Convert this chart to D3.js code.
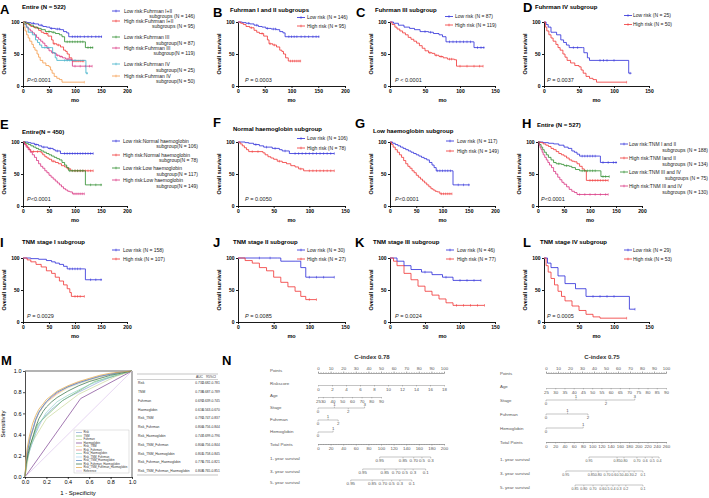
<!DOCTYPE html>
<html><head><meta charset="utf-8">
<script src="https://cdn.jsdelivr.net/npm/d3@7"></script>
<style>
body{margin:0;background:#fff}
svg{font-family:"Liberation Sans",Arial,sans-serif}
</style></head><body>
<svg width="709" height="498"></svg>
<script>
// ---- Kaplan-Meier curves: [month, survival %] steps, censor times
const fI_low = [[0,100],[8,99],[15,98],[22,97],[30,95],[38,93],[45,92],[52,90],[62,89],[72,88],[78,85],[84,83],[88,77],[152,77]];
const fI_low_c = [20,35,55,66,70,95,100,105,110,118,125,132,140,146,151];
const fI_high = [[0,100],[5,98],[10,96],[15,93],[22,91],[30,87],[35,84],[40,82],[48,78],[55,72],[58,66],[65,64],[72,61],[78,56],[82,54],[85,50],[89,44],[94,39],[117,39]];
const fI_high_c = [25,45,60,68,98,102,106,110,114,117];
const fIII_low = [[0,100],[5,98],[12,95],[20,92],[28,90],[35,88],[43,85],[55,84],[62,82],[70,80],[75,77],[80,69],[119,69],[120,60],[135,60]];
const fIII_low_c = [50,58,85,90,95,100,105,110,115,125,130,134];
const fIII_high = [[0,100],[3,96],[7,92],[10,89],[14,86],[18,83],[22,80],[26,76],[30,73],[34,70],[38,67],[42,63],[46,59],[50,55],[55,52],[60,51],[64,48],[70,46],[76,44],[82,42],[92,41],[95,31],[133,31]];
const fIII_high_c = [57,66,73,85,88,100,110,120,128,133];
const fIV_low = [[0,100],[3,96],[6,92],[10,84],[18,80],[24,72],[28,68],[32,64],[36,60],[55,60],[57,52],[62,44],[65,40],[120,40],[121,20],[125,20]];
const fIV_low_c = [42,48,80,85,90,100,123];
const fIV_high = [[0,100],[2,92],[4,86],[7,80],[10,75],[13,70],[17,65],[20,60],[23,56],[27,50],[30,45],[33,40],[38,36],[44,32],[50,30],[53,25],[56,20],[60,15],[65,12],[70,10],[75,6],[118,6]];
const fIV_high_c = [118];

const hN_low = [[0,100],[10,99],[15,98],[22,96],[30,94],[36,92],[48,90],[58,88],[62,86],[72,82],[135,82]];
const hN_low_c = [25,40,52,66,80,85,90,95,100,105,110,115,120,125,130,135];
const hN_high = [[0,100],[3,97],[6,94],[9,91],[12,88],[15,85],[35,83],[38,80],[42,77],[46,75],[50,73],[55,70],[62,68],[68,66],[74,63],[80,61],[85,58],[92,55],[135,55]];
const hN_high_c = [20,28,58,88,100,105,110,115,120,125,130,135];
const hL_low = [[0,100],[5,98],[10,96],[15,94],[20,92],[25,90],[30,88],[35,86],[40,84],[45,82],[50,80],[55,78],[60,76],[65,74],[70,72],[75,68],[80,64],[84,60],[88,55],[118,55],[120,33],[152,33]];
const hL_low_c = [90,95,100,105,110,115,130,140,150];
const hL_high = [[0,100],[3,96],[6,92],[10,88],[14,84],[18,80],[22,76],[26,71],[30,66],[34,62],[38,59],[42,55],[46,52],[50,48],[54,45],[58,42],[62,39],[66,36],[70,33],[74,30],[78,27],[82,25],[86,23],[90,22],[95,19],[118,19]];
const hL_high_c = [98,102,106,110,114,118];

const tA_low = [[0,100],[10,99],[20,98],[30,97],[40,95],[50,92],[58,90],[65,86],[70,84],[75,81],[80,78],[118,78],[120,68],[152,68]];
const tA_low_c = [85,90,95,100,105,110,125,135,145,150];
const tA_high = [[0,100],[5,99],[10,97],[15,95],[20,93],[25,90],[30,88],[35,85],[40,82],[45,80],[50,78],[55,75],[60,72],[65,70],[70,69],[75,66],[80,62],[85,58],[89,55],[93,40],[135,40]];
const tA_high_c = [100,105,110,115,120,125,130,135];
const tB_low = [[0,100],[3,96],[6,92],[9,88],[12,84],[16,80],[20,76],[25,72],[30,68],[35,66],[45,65],[50,63],[60,62],[65,60],[72,57],[80,55],[120,55],[121,46],[137,46]];
const tB_low_c = [40,55,85,90,95,100,105,110,125,130,137];
const tB_high = [[0,100],[2,95],[4,91],[6,88],[8,84],[10,80],[13,76],[16,72],[19,68],[22,64],[26,60],[30,54],[34,50],[38,45],[42,41],[46,37],[50,34],[55,30],[60,26],[65,23],[70,21],[75,18],[135,18]];
const tB_high_c = [80,90,100,110,120,130,135];

const tI_low = [[0,100],[15,99],[30,98],[45,96],[55,94],[62,92],[70,90],[78,87],[85,83],[118,83],[120,66],[152,66]];
const tI_low_c = [90,95,100,105,110,130,140,150];
const tI_high = [[0,100],[8,97],[15,94],[25,90],[35,86],[45,80],[55,76],[62,70],[70,64],[78,58],[85,52],[90,46],[93,40],[118,40]];
const tI_high_c = [100,105,110,118];
const tII_low = [[0,100],[55,100],[60,95],[80,95],[88,85],[95,70],[135,70]];
const tII_low_c = [30,45,100,110,120,135];
const tII_high = [[0,100],[10,96],[20,92],[30,85],[40,80],[50,70],[60,62],[70,55],[80,48],[88,40],[95,35],[110,35]];
const tII_high_c = [100,110];
const tIII_low = [[0,100],[10,95],[20,88],[30,82],[45,78],[60,74],[75,70],[90,65],[130,65]];
const tIII_low_c = [50,80,100,110,120,130];
const tIII_high = [[0,100],[5,95],[10,88],[20,76],[30,66],[40,56],[50,48],[60,42],[70,36],[80,30],[90,26],[135,26]];
const tIII_high_c = [95,105,115,125,135];
const tIV_low = [[0,100],[5,92],[10,85],[20,72],[30,60],[45,52],[60,40],[120,40],[122,20],[130,20]];
const tIV_low_c = [70,80,90,100,130];
const tIV_high = [[0,100],[3,88],[6,78],[10,68],[15,58],[20,48],[25,40],[30,33],[40,25],[50,18],[60,12],[70,8],[80,6],[118,6]];
const tIV_high_c = [118];

// ---- ROC curves: [1 - specificity, sensitivity]
const rocNames = ["Risk","TNM","Fuhrman","Haemoglobin","Risk_TNM","Risk_Fuhrman","Risk_Haemoglobin","Risk_TNM_Fuhrman","Risk_TNM_Haemoglobin","Risk_Fuhrman_Haemoglobin","Risk_TNM_Fuhrman_Haemoglobin","Reference"];
const rocColors = ["#8aa6d6","#6fb46a","#c9d99a","#7b3f91","#eddc9c","#e07a7a","#8fd3c6","#a6d4f2","#4f7fc4","#2c6a3e","#e0a23e","#dcc4ec"];
const rocRisk = [[0,0],[0.01,0.1],[0.02,0.16],[0.04,0.24],[0.06,0.3],[0.08,0.35],[0.1,0.41],[0.13,0.48],[0.16,0.54],[0.2,0.59],[0.25,0.64],[0.3,0.68],[0.35,0.72],[0.4,0.75],[0.5,0.8],[0.6,0.85],[0.7,0.9],[0.8,0.94],[0.9,0.97],[1,1]];
const rocTNM = [[0,0],[0.03,0.25],[0.12,0.5],[0.35,0.72],[0.65,0.9],[1,1]];
const rocFuhrman = [[0,0],[0.05,0.3],[0.2,0.55],[0.5,0.78],[0.85,0.95],[1,1]];
const rocHaemo = [[0,0],[0.52,0.74],[1,1]];
const rocRT = [[0,0],[0.01,0.14],[0.03,0.26],[0.05,0.36],[0.08,0.46],[0.1,0.53],[0.13,0.6],[0.17,0.66],[0.2,0.7],[0.25,0.74],[0.3,0.78],[0.4,0.84],[0.5,0.88],[0.6,0.91],[0.7,0.94],[0.8,0.97],[0.9,0.99],[1,1]];
const rocRF = [[0,0],[0.01,0.15],[0.03,0.28],[0.05,0.38],[0.08,0.47],[0.1,0.54],[0.13,0.61],[0.17,0.67],[0.2,0.71],[0.25,0.75],[0.3,0.79],[0.4,0.85],[0.5,0.89],[0.6,0.92],[0.7,0.95],[0.8,0.97],[0.9,0.99],[1,1]];
const rocRH = [[0,0],[0.01,0.12],[0.03,0.2],[0.05,0.27],[0.08,0.36],[0.1,0.43],[0.13,0.5],[0.17,0.56],[0.2,0.61],[0.25,0.66],[0.3,0.71],[0.4,0.77],[0.5,0.82],[0.6,0.87],[0.7,0.91],[0.8,0.95],[0.9,0.98],[1,1]];
const rocRTF = [[0,0],[0.01,0.16],[0.02,0.24],[0.05,0.39],[0.08,0.48],[0.1,0.55],[0.13,0.62],[0.17,0.67],[0.2,0.71],[0.25,0.76],[0.3,0.8],[0.4,0.85],[0.5,0.88],[0.6,0.92],[0.7,0.95],[0.8,0.97],[0.9,0.99],[1,1]];
const rocRTH = [[0,0],[0.01,0.13],[0.03,0.27],[0.05,0.37],[0.08,0.47],[0.1,0.54],[0.13,0.61],[0.17,0.67],[0.2,0.71],[0.25,0.76],[0.3,0.8],[0.4,0.85],[0.5,0.89],[0.6,0.92],[0.7,0.95],[0.8,0.97],[0.9,0.99],[1,1]];
const rocRFH = [[0,0],[0.01,0.12],[0.03,0.22],[0.05,0.3],[0.08,0.4],[0.1,0.47],[0.13,0.55],[0.17,0.62],[0.2,0.66],[0.25,0.71],[0.3,0.75],[0.4,0.81],[0.5,0.86],[0.6,0.9],[0.7,0.93],[0.8,0.96],[0.9,0.98],[1,1]];
const rocRTFH = [[0,0],[0.01,0.18],[0.02,0.27],[0.04,0.38],[0.07,0.5],[0.1,0.58],[0.13,0.64],[0.17,0.69],[0.2,0.73],[0.25,0.77],[0.3,0.81],[0.4,0.86],[0.5,0.9],[0.6,0.93],[0.7,0.96],[0.8,0.98],[0.9,0.99],[1,1]];
const rocRef = [[0,0],[1,1]];
const rocCurves = [rocRisk,rocTNM,rocFuhrman,rocHaemo,rocRT,rocRF,rocRH,rocRTF,rocRTH,rocRFH,rocRTFH,rocRef];
const aucValues = ["0.732","0.738","0.692","0.616","0.792","0.800","0.747","0.800","0.801","0.776","0.808"];
const aucCI = ["0.682-0.781","0.687-0.789","0.639-0.745","0.563-0.670","0.747-0.837","0.756-0.844","0.699-0.796","0.756-0.844","0.758-0.845","0.731-0.821","0.765-0.851"];

// ---- nomograms
const nomoLabels1 = ["Points","Riskscore","Age","Stage","Fuhrman","Hemoglobin","Total Points","1- year survival","3- year survival","5- year survival"];
const nomoLabels2 = ["Points","Age","Stage","Fuhrman","Hemoglobin","Total Points","1- year survival","3- year survival","5- year survival"];
const riskTicks = [0,2,4,6,8,10,12,14,16,18];
const age1Ticks = [25,30,40,50,60,70,80,90];
const age2Ticks = [25,30,35,40,45,50,55,60,65,70,75,80,85,90];
const stage1Pts = [0,13,24,37];
const fuhr1Pts = [0,8,16];
const hemo1Pts = [0,12];
const stage2Pts = [0,25,50,74];
const fuhr2Pts = [0,18,35];
const hemo2Pts = [0,31];
// [survival probability label, total points]
const surv1y_1 = [["0.95",98],["0.85",135],["0.70",152],["0.5",165],["0.3",179]];
const surv3y_1 = [["0.95",71],["0.85",106],["0.70",124],["0.5",138],["0.3",151],["0.1",171]];
const surv5y_1 = [["0.95",52],["0.85",86],["0.70",103],["0.5",117],["0.3",130],["0.1",149]];
const surv1y_2 = [["0.95",93],["0.85",154],["0.80",169],["0.70",197],["0.6",215],["0.5",230],["0.4",245]];
const surv3y_2 = [["0.95",43],["0.85",98],["0.80",113],["0.70",132],["0.6",147],["0.5",158],["0.4",169],["0.3",180],["0.2",191],["0.1",210]];
const surv5y_2 = [["0.85",63],["0.80",82],["0.70",102],["0.6",121],["0.5",132],["0.4",145],["0.3",158],["0.2",173],["0.1",210]];

const BLUE="#2a2ad8", RED="#f03232", GREEN="#2a8a2a", MAG="#d8307f", CYAN="#3aaec8", ORANGE="#f59a4a";
const svg = d3.select("svg");

function cur(d, c, col, l1, l2) { return {d, c, col, l1, l2}; }

const panels = [
  {L:"A", lx:0, ly:14, title:"Entire (N = 522)", tx:22, ty:9, x0:23, w:104, top:22, bot:86, xmax:200, p:"<0.0001", px:27, py:82,
   leg:{mx:112, tx:124, rx:195, rows:[[11,16.5],[21,26.5],[37,43],[48,53.5],[64,70],[76,81.5]]},
   curves:[cur(fI_low,fI_low_c,BLUE,"Low risk:Fuhrman I+II","subgroups (N = 146)"),
           cur(fI_high,fI_high_c,RED,"High risk:Fuhrman I+II","subgroups (N = 95)"),
           cur(fIII_low,fIII_low_c,GREEN,"Low risk:Fuhrman III","subgroup(N = 87)"),
           cur(fIII_high,fIII_high_c,MAG,"High risk:Fuhrman III","subgroup(N = 119)"),
           cur(fIV_low,fIV_low_c,CYAN,"Low risk:Fuhrman IV","subgroup(N = 25)"),
           cur(fIV_high,fIV_high_c,ORANGE,"High risk:Fuhrman IV","subgroup(N = 50)")]},
  {L:"B", lx:213, ly:17, title:"Fuhrman I and II subgroups", tx:230, ty:12, x0:238, w:107, top:22, bot:86, xmax:200, p:" = 0.0003", px:245, py:82,
   leg:{mx:297, tx:307, rows:[17.5,26]},
   curves:[cur(fI_low,fI_low_c,BLUE,"Low risk (N = 146)"),cur(fI_high,fI_high_c,RED,"High risk (N = 95)")]},
  {L:"C", lx:356, ly:17, title:"Fuhrman III subgroup", tx:375, ty:12, x0:390, w:105, top:22, bot:86, xmax:150, p:" < 0.0001", px:395, py:82,
   leg:{mx:445, tx:455, rows:[16.5,25]},
   curves:[cur(fIII_low,fIII_low_c,BLUE,"Low risk (N = 87)"),cur(fIII_high,fIII_high_c,RED,"High risk (N = 119)")]},
  {L:"D", lx:523, ly:12, title:"Fuhrman IV subgroup", tx:535, ty:9, x0:544, w:105, top:22, bot:86, xmax:150, p:" = 0.0037", px:547, py:82,
   leg:{mx:624, tx:633, rows:[15.5,24.5]},
   curves:[cur(fIV_low,fIV_low_c,BLUE,"Low risk (N = 25)"),cur(fIV_high,fIV_high_c,RED,"High risk (N = 50)")]},
  {L:"E", lx:0, ly:129, title:"Entire(N = 450)", tx:22, ty:134, x0:23, w:104, top:142, bot:206, xmax:200, p:"<0.0001", px:27, py:201,
   leg:{mx:112, tx:123, rx:198, rows:[[141,146.5],[155,160.5],[168,174],[180,186]]},
   curves:[cur(hN_low,hN_low_c,BLUE,"Low risk:Normal haemoglobin","subgroup(N = 106)"),
           cur(hN_high,hN_high_c,RED,"High risk:Normal haemoglobin","subgroup(N = 78)"),
           cur(hL_low,hL_low_c,GREEN,"Low risk:Low haemoglobin","subgroup(N = 117)"),
           cur(hL_high,hL_high_c,MAG,"High risk:Low haemoglobin","subgroup(N = 149)")]},
  {L:"F", lx:213, ly:127, title:"Normal haemoglobin subgroup", tx:233, ty:131, x0:238, w:107, top:142, bot:206, xmax:150, p:" = 0.0050", px:245, py:201,
   leg:{mx:297, tx:307, rows:[138.5,148]},
   curves:[cur(hN_low,hN_low_c,BLUE,"Low risk (N = 106)"),cur(hN_high,hN_high_c,RED,"High risk (N = 78)")]},
  {L:"G", lx:355, ly:128, title:"Low haemoglobin subgroup", tx:373, ty:133, x0:390, w:105, top:142, bot:206, xmax:200, p:"<0.0001", px:395, py:201,
   leg:{mx:446, tx:457, rows:[141,151]},
   curves:[cur(hL_low,hL_low_c,BLUE,"Low risk (N = 117)"),cur(hL_high,hL_high_c,RED,"High risk (N = 149)")]},
  {L:"H", lx:522, ly:128, title:"Entire (N = 527)", tx:537, ty:127, x0:538, w:104, top:142, bot:206, xmax:200, p:"<0.0001", px:541, py:201,
   leg:{mx:620, tx:629, rx:708, rows:[[144,150],[158,164],[172,178],[186,192]]},
   curves:[cur(tA_low,tA_low_c,BLUE,"Low risk:TNM I and II","subgroups (N = 188)"),
           cur(tA_high,tA_high_c,RED,"High risk:TNM Iand II","subgroups (N = 134)"),
           cur(tB_low,tB_low_c,GREEN,"Low risk:TNM III and IV","subgroups (N = 75)"),
           cur(tB_high,tB_high_c,MAG,"High risk:TNM III and IV","subgroups (N = 130)")]},
  {L:"I", lx:0, ly:247, title:"TNM stage I subgroup", tx:22, ty:244, x0:23, w:104, top:258, bot:322, xmax:200, p:" = 0.0029", px:27, py:318,
   leg:{mx:112, tx:123, rows:[250,259]},
   curves:[cur(tI_low,tI_low_c,BLUE,"Low risk (N = 158)"),cur(tI_high,tI_high_c,RED,"High risk (N = 107)")]},
  {L:"J", lx:213, ly:247, title:"TNM stage II subgroup", tx:233, ty:244, x0:238, w:107, top:258, bot:322, xmax:150, p:" = 0.0085", px:245, py:318,
   leg:{mx:297, tx:307, rows:[250,259]},
   curves:[cur(tII_low,tII_low_c,BLUE,"Low risk (N = 30)"),cur(tII_high,tII_high_c,RED,"High risk (N = 27)")]},
  {L:"K", lx:355, ly:247, title:"TNM stage III subgroup", tx:373, ty:244, x0:390, w:105, top:258, bot:322, xmax:150, p:" = 0.0024", px:395, py:318,
   leg:{mx:446, tx:457, rows:[250,259]},
   curves:[cur(tIII_low,tIII_low_c,BLUE,"Low risk (N = 46)"),cur(tIII_high,tIII_high_c,RED,"High risk (N = 77)")]},
  {L:"L", lx:523, ly:247, title:"TNM stage IV subgroup", tx:540, ty:244, x0:544, w:105, top:258, bot:322, xmax:150, p:" = 0.0005", px:547, py:318,
   leg:{mx:624, tx:633, rows:[250,259]},
   curves:[cur(tIV_low,tIV_low_c,BLUE,"Low risk (N = 29)"),cur(tIV_high,tIV_high_c,RED,"High risk (N = 53)")]}
];

function survAt(d, t) {
  let s = d[0][1];
  for (const p of d) { if (p[0] <= t) s = p[1]; }
  return s;
}

function drawKM(p) {
  const g = svg.append("g");
  const x = d3.scaleLinear([0, p.xmax], [p.x0, p.x0 + p.w]);
  const y = d3.scaleLinear([0, 100], [p.bot, p.top]);

  const xa = g.append("g").attr("transform", `translate(0,${p.bot})`)
    .call(d3.axisBottom(x).tickValues(d3.range(0, p.xmax + 1, 50)).tickSize(2).tickSizeOuter(0).tickPadding(1.5));
  const ya = g.append("g").attr("transform", `translate(${p.x0},0)`)
    .call(d3.axisLeft(y).tickValues([0, 50, 100]).tickSize(2).tickSizeOuter(0).tickPadding(1.5));
  [xa, ya].forEach(a => {
    a.selectAll("path,line").attr("stroke", "#000").attr("stroke-width", 0.9);
    a.selectAll("text").attr("font-size", 5).attr("font-weight", "bold").attr("fill", "#000");
  });

  g.append("text").attr("transform", `translate(${p.x0 - 17},${(p.top + p.bot) / 2}) rotate(-90)`)
    .attr("text-anchor", "middle").attr("font-size", 5.5).attr("font-weight", "bold").text("Overall survival");
  g.append("text").attr("x", p.x0 + p.w / 2).attr("y", p.bot + 16).attr("text-anchor", "middle")
    .attr("font-size", 5.5).attr("font-weight", "bold").text("mo");

  const line = d3.line().x(d => x(d[0])).y(d => y(d[1])).curve(d3.curveStepAfter);
  p.curves.forEach(c => {
    g.append("path").attr("d", line(c.d)).attr("fill", "none").attr("stroke", c.col).attr("stroke-width", 0.8);
    g.selectAll(null).data(c.c).join("line")
      .attr("x1", t => x(t)).attr("x2", t => x(t))
      .attr("y1", t => y(survAt(c.d, t)) - 1.3).attr("y2", t => y(survAt(c.d, t)) + 1.3)
      .attr("stroke", c.col).attr("stroke-width", 0.5);
  });

  // legend
  p.curves.forEach((c, i) => {
    const r = p.leg.rows[i];
    const y1 = Array.isArray(r) ? r[0] : r;
    g.append("line").attr("x1", p.leg.mx).attr("x2", p.leg.mx + 8).attr("y1", y1).attr("y2", y1)
      .attr("stroke", c.col).attr("stroke-width", 0.8);
    g.append("line").attr("x1", p.leg.mx + 4).attr("x2", p.leg.mx + 4).attr("y1", y1 - 1.3).attr("y2", y1 + 1.3)
      .attr("stroke", c.col).attr("stroke-width", 0.6);
    g.append("text").attr("x", p.leg.tx).attr("y", y1).attr("dy", "0.35em").attr("font-size", 5).attr("fill", "#222").text(c.l1);
    if (c.l2) g.append("text").attr("x", p.leg.rx).attr("y", r[1]).attr("dy", "0.35em").attr("text-anchor", "end")
      .attr("font-size", 5).attr("fill", "#222").text(c.l2);
  });

  g.append("text").attr("x", p.lx).attr("y", p.ly).attr("font-size", 13).attr("font-weight", "bold").text(p.L);
  g.append("text").attr("x", p.tx).attr("y", p.ty).attr("font-size", 6).attr("font-weight", "bold").text(p.title);
  const pt = g.append("text").attr("x", p.px).attr("y", p.py).attr("font-size", 5.5).attr("fill", "#222");
  pt.append("tspan").attr("font-style", "italic").text("P");
  pt.append("tspan").text(p.p);
}
panels.forEach(drawKM);

// ---- M: ROC
const rx = d3.scaleLinear([0, 1], [25, 132]);
const ry = d3.scaleLinear([0, 1], [477, 371]);
const gm = svg.append("g");
const fmt = d3.format(".1f");
const rxa = gm.append("g").attr("transform", "translate(0,477)")
  .call(d3.axisBottom(rx).ticks(5).tickFormat(fmt).tickSize(2).tickSizeOuter(0).tickPadding(1.5));
const rya = gm.append("g").attr("transform", "translate(25,0)")
  .call(d3.axisLeft(ry).ticks(5).tickFormat(fmt).tickSize(2).tickSizeOuter(0).tickPadding(1.5));
[rxa, rya].forEach(a => {
  a.selectAll("path,line").attr("stroke", "#000").attr("stroke-width", 0.7);
  a.selectAll("text").attr("font-size", 5.5).attr("fill", "#000");
});
gm.append("path").attr("d", `M25,371H132V477`).attr("fill", "none").attr("stroke", "#000").attr("stroke-width", 0.6);
const rline = d3.line().x(d => rx(d[0])).y(d => ry(d[1]));
rocCurves.forEach((c, i) => {
  gm.append("path").attr("d", rline(c)).attr("fill", "none").attr("stroke", rocColors[i]).attr("stroke-width", 0.7);
});
gm.append("text").attr("transform", "translate(5,424) rotate(-90)").attr("text-anchor", "middle").attr("font-size", 6).text("Sensitivity");
gm.append("text").attr("x", 78).attr("y", 495).attr("text-anchor", "middle").attr("font-size", 6).text("1 - Specificity");
gm.append("text").attr("x", 1).attr("y", 365).attr("font-size", 13).attr("font-weight", "bold").text("M");
// ROC legend
gm.append("rect").attr("x", 74).attr("y", 430).attr("width", 55).attr("height", 43).attr("fill", "#fff").attr("stroke", "#bbb").attr("stroke-width", 0.4);
rocNames.forEach((n, i) => {
  const yy = 432.5 + i * 3.5;
  gm.append("line").attr("x1", 76).attr("x2", 82).attr("y1", yy).attr("y2", yy).attr("stroke", rocColors[i]).attr("stroke-width", 0.7);
  gm.append("text").attr("x", 83.5).attr("y", yy).attr("dy", "0.35em").attr("font-size", 2.8).attr("fill", "#333").text(n);
});
// AUC table
const gt = svg.append("g").attr("font-size", 3.3).attr("fill", "#333");
gt.append("line").attr("x1", 137).attr("x2", 218).attr("y1", 374).attr("y2", 374).attr("stroke", "#888").attr("stroke-width", 0.5);
gt.append("line").attr("x1", 137).attr("x2", 218).attr("y1", 379.5).attr("y2", 379.5).attr("stroke", "#888").attr("stroke-width", 0.4);
gt.append("line").attr("x1", 137).attr("x2", 218).attr("y1", 475).attr("y2", 475).attr("stroke", "#888").attr("stroke-width", 0.5);
gt.append("text").attr("x", 199.5).attr("y", 377.8).attr("text-anchor", "middle").text("AUC");
gt.append("text").attr("x", 211).attr("y", 377.8).attr("text-anchor", "middle").text("95%CI");
aucValues.forEach((v, i) => {
  const yy = 383 + i * 8.8;
  gt.append("text").attr("x", 138).attr("y", yy).attr("dy", "0.35em").text(rocNames[i]);
  gt.append("text").attr("x", 199.5).attr("y", yy).attr("dy", "0.35em").attr("text-anchor", "middle").text(v);
  gt.append("text").attr("x", 211).attr("y", yy).attr("dy", "0.35em").attr("text-anchor", "middle").text(aucCI[i]);
});

// ---- N: nomograms
svg.append("text").attr("x", 222).attr("y", 365).attr("font-size", 13).attr("font-weight", "bold").text("N");
const NF = 4.4, NC = "#555", LC = "#888";

function styleAxis(a) {
  a.selectAll("path,line").attr("stroke", LC).attr("stroke-width", 0.5);
  a.selectAll("text").attr("font-size", NF).attr("fill", NC);
}
function pointAxis(g, sc, yy, top, max, step, minor) {
  const ax = (top ? d3.axisTop(sc) : d3.axisBottom(sc)).tickValues(d3.range(0, max + 1, step)).tickSize(1.6).tickSizeOuter(0).tickPadding(1);
  const a = g.append("g").attr("transform", `translate(0,${yy})`).call(ax);
  styleAxis(a);
  const m = g.append("g").attr("transform", `translate(0,${yy})`)
    .call((top ? d3.axisTop(sc) : d3.axisBottom(sc)).tickValues(d3.range(0, max + 0.01, minor)).tickSize(0.9).tickFormat(""));
  styleAxis(m);
}
function valueAxis(g, sc, yy, vals) {
  const a = g.append("g").attr("transform", `translate(0,${yy})`)
    .call(d3.axisBottom(sc).tickValues(vals).tickSize(1.4).tickSizeOuter(0).tickPadding(1));
  styleAxis(a);
}
function catAxis(g, pts, yy, labs) {
  g.append("line").attr("x1", pts(0)).attr("x2", pts(labs[labs.length - 1])).attr("y1", yy).attr("y2", yy).attr("stroke", LC).attr("stroke-width", 0.5);
  labs.forEach((v, i) => {
    const up = i % 2 === 1;
    g.append("line").attr("x1", pts(v)).attr("x2", pts(v)).attr("y1", yy).attr("y2", up ? yy - 1.4 : yy + 1.4).attr("stroke", LC).attr("stroke-width", 0.5);
    g.append("text").attr("x", pts(v)).attr("y", up ? yy - 2 : yy + 2).attr("dy", up ? "0em" : "0.72em").attr("text-anchor", "middle")
      .attr("font-size", NF).attr("fill", NC).text(i);
  });
}
function survAxis(g, tot, yy, ticks, fs) {
  g.append("line").attr("x1", tot(ticks[0][1])).attr("x2", tot(ticks[ticks.length - 1][1])).attr("y1", yy).attr("y2", yy).attr("stroke", LC).attr("stroke-width", 0.5);
  ticks.forEach(t => {
    g.append("line").attr("x1", tot(t[1])).attr("x2", tot(t[1])).attr("y1", yy).attr("y2", yy + 1.4).attr("stroke", LC).attr("stroke-width", 0.5);
    g.append("text").attr("x", tot(t[1])).attr("y", yy + 2).attr("dy", "0.72em").attr("text-anchor", "middle").attr("font-size", fs).attr("fill", NC).text(t[0]);
  });
}
function labels(g, x, ys, labs) {
  labs.forEach((l, i) => g.append("text").attr("x", x).attr("y", ys[i]).attr("dy", "0.35em").attr("font-size", NF).attr("fill", NC).text(l));
}

// nomogram 1
const g1 = svg.append("g");
const pts1 = d3.scaleLinear([0, 100], [318, 444]);
const tot1 = d3.scaleLinear([0, 200], [318, 444]);
g1.append("text").attr("x", 372).attr("y", 357).attr("dy", "0.35em").attr("text-anchor", "middle").attr("font-size", 6).attr("font-weight", "bold").attr("fill", "#333").text("C-index 0.78");
labels(g1, 270, [370, 383, 395, 407, 419, 431, 444, 458, 471, 482], nomoLabels1);
pointAxis(g1, pts1, 373, true, 100, 10, 2);
valueAxis(g1, d3.scaleLinear([0, 18], [pts1(0), pts1(100)]), 385, riskTicks);
valueAxis(g1, d3.scaleLinear([25, 90], [pts1(0), pts1(50)]), 397, age1Ticks);
catAxis(g1, v => pts1(v), 408, stage1Pts);
catAxis(g1, v => pts1(v), 420, fuhr1Pts);
catAxis(g1, v => pts1(v), 432, hemo1Pts);
pointAxis(g1, tot1, 444, false, 200, 20, 4);
survAxis(g1, tot1, 457, surv1y_1, NF);
survAxis(g1, tot1, 469, surv3y_1, NF);
survAxis(g1, tot1, 480, surv5y_1, NF);

// nomogram 2
const g2 = svg.append("g");
const pts2 = d3.scaleLinear([0, 100], [546, 666]);
const tot2 = d3.scaleLinear([0, 260], [546, 666]);
g2.append("text").attr("x", 602).attr("y", 357).attr("dy", "0.35em").attr("text-anchor", "middle").attr("font-size", 6).attr("font-weight", "bold").attr("fill", "#333").text("C-index 0.75");
labels(g2, 500, [373, 386, 400, 414, 428, 442, 459, 473, 487], nomoLabels2);
pointAxis(g2, pts2, 373, true, 100, 10, 2);
valueAxis(g2, d3.scaleLinear([25, 90], [pts2(0), pts2(100)]), 388, age2Ticks);
catAxis(g2, v => pts2(v), 400, stage2Pts);
catAxis(g2, v => pts2(v), 414, fuhr2Pts);
catAxis(g2, v => pts2(v), 428, hemo2Pts);
pointAxis(g2, tot2, 442, false, 260, 20, 4);
survAxis(g2, tot2, 457, surv1y_2, 3.6);
survAxis(g2, tot2, 471, surv3y_2, 3.6);
survAxis(g2, tot2, 485, surv5y_2, 3.6);
</script></body></html>
